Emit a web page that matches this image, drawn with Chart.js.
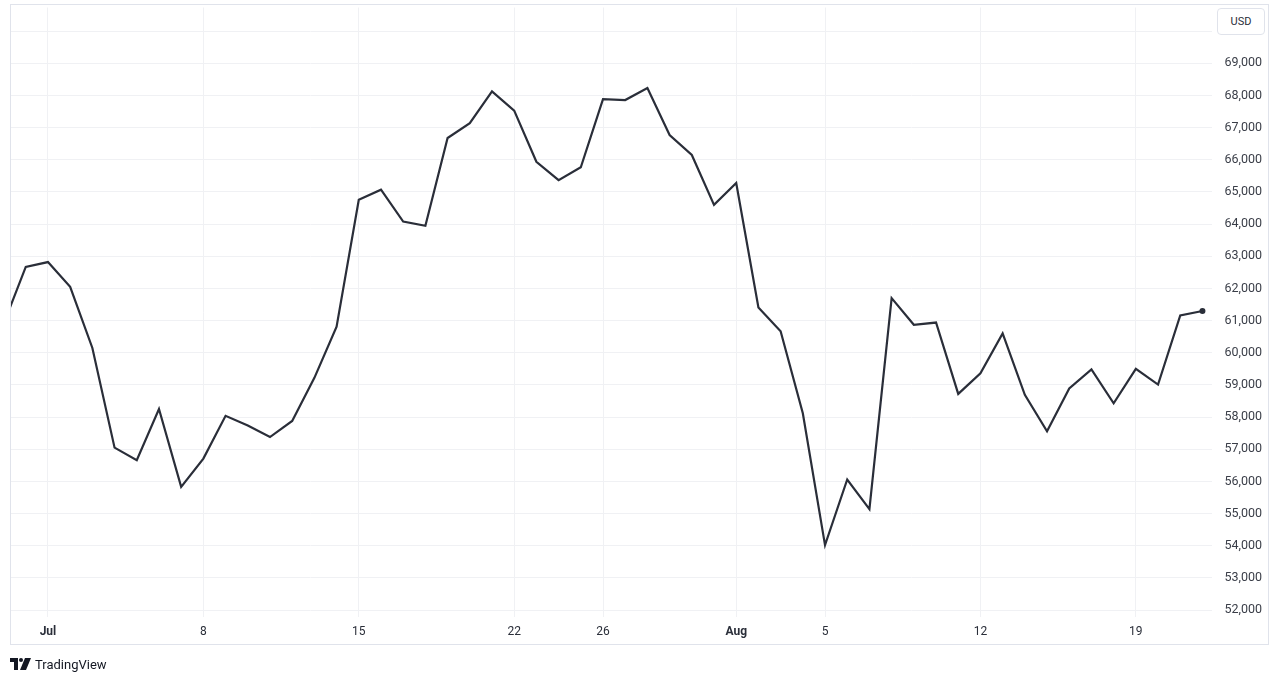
<!DOCTYPE html>
<html>
<head>
<meta charset="utf-8">
<script src="https://cdn.jsdelivr.net/npm/chart.js@4/dist/chart.umd.min.js"></script>
<style>
  html, body { margin: 0; padding: 0; background: #ffffff; }
  #wrap { position: relative; width: 1280px; height: 683px; }
  #c { position: absolute; left: 0; top: 0; }
  #usd { position: absolute; left: 1217px; top: 8px; width: 48px; height: 27px; box-sizing: border-box;
         border: 1px solid #e0e3eb; border-radius: 4px; background: #fff;
         font: 11px Roboto, "Noto Sans", sans-serif; color: #2a2e39; text-align: center; line-height: 25px; }
  #logo { position: absolute; left: 10px; top: 656px; height: 16px; display: flex; align-items: center;
          font: 13px Roboto, "Noto Sans", sans-serif; color: #131722; }
  #logo svg { margin-right: 4px; }
</style>
</head>
<body>
<div id="wrap">
  <canvas id="c" width="1280" height="683"></canvas>
  <div id="usd">USD</div>
  <div id="logo"><svg width="21" height="12" viewBox="0 0 21 12"><path d="M0 0h8v12H4V4H0z" fill="#131722"/><circle cx="11" cy="2" r="2" fill="#131722"/><path d="M15 0h6l-5 12h-6z" fill="#131722"/></svg>TradingView</div>
</div>
<script>
const dates = [
  '2024-06-29','2024-06-30','2024-07-01','2024-07-02','2024-07-03','2024-07-04','2024-07-05','2024-07-06',
  '2024-07-07','2024-07-08','2024-07-09','2024-07-10','2024-07-11','2024-07-12','2024-07-13','2024-07-14',
  '2024-07-15','2024-07-16','2024-07-17','2024-07-18','2024-07-19','2024-07-20','2024-07-21','2024-07-22',
  '2024-07-23','2024-07-24','2024-07-25','2024-07-26','2024-07-27','2024-07-28','2024-07-29','2024-07-30',
  '2024-07-31','2024-08-01','2024-08-02','2024-08-03','2024-08-04','2024-08-05','2024-08-06','2024-08-07',
  '2024-08-08','2024-08-09','2024-08-10','2024-08-11','2024-08-12','2024-08-13','2024-08-14','2024-08-15',
  '2024-08-16','2024-08-17','2024-08-18','2024-08-19','2024-08-20','2024-08-21','2024-08-22'
];
const prices = [
  60890, 62670, 62820, 62050, 60150, 57050, 56660, 58250,
  55830, 56710, 58040, 57740, 57380, 57880, 59220, 60810,
  64760, 65070, 64080, 63950, 66680, 67140, 68130, 67530,
  65940, 65370, 65770, 67890, 67860, 68230, 66770, 66150,
  64600, 65280, 61410, 60670, 58120, 54020, 56060, 55140,
  61700, 60870, 60940, 58720, 59360, 60600, 58690, 57560,
  58890, 59480, 58430, 59500, 59010, 61160, 61300
];
const tickDates = ['2024-07-01','2024-07-08','2024-07-15','2024-07-22','2024-07-26','2024-08-01','2024-08-05','2024-08-12','2024-08-19'];
const tickLabels = ['Jul','8','15','22','26','Aug','5','12','19'];
const boldTicks = ['Jul','Aug'];
const priceTicks = [52000,53000,54000,55000,56000,57000,58000,59000,60000,61000,62000,63000,64000,65000,66000,67000,68000,69000,70000];

const DAY = 86400000;
const base = Date.UTC(2024, 6, 1);
const dayIndex = s => { const [y,m,d] = s.split('-').map(Number); return Math.round((Date.UTC(y, m-1, d) - base) / DAY); };
const pts = dates.map((d, i) => ({ x: dayIndex(d), y: prices[i] }));
const tickIdx = tickDates.map(dayIndex);
const lastIdx = pts.length - 1;
const FONT = 'Roboto, "Noto Sans", sans-serif';

const frame = {
  id: 'frame',
  afterDraw(chart) {
    const ctx = chart.ctx;
    ctx.save();
    ctx.strokeStyle = '#e0e3eb';
    ctx.lineWidth = 1;
    ctx.strokeRect(10.5, 4.5, 1258, 640);
    ctx.restore();
  }
};

new Chart(document.getElementById('c'), {
  type: 'line',
  data: {
    datasets: [{
      data: pts,
      borderColor: '#2a2e39',
      borderWidth: 2.2,
      tension: 0,
      pointRadius: ctx => ctx.dataIndex === lastIdx ? 3 : 0,
      pointBackgroundColor: '#2a2e39',
      pointBorderColor: '#2a2e39',
      pointBorderWidth: 0,
      clip: { left: 0, top: 0, right: 6, bottom: 0 }
    }]
  },
  options: {
    responsive: false,
    animation: false,
    events: [],
    layout: { padding: { left: 10, top: 6, right: 18, bottom: 0 } },
    plugins: { legend: { display: false }, tooltip: { enabled: false } },
    scales: {
      x: {
        type: 'linear',
        min: -1.71,
        max: 52.43,
        afterBuildTicks: s => { s.ticks = tickIdx.map(v => ({ value: v })); },
        afterFit: s => { s.height = 66; },
        grid: { color: '#f0f1f4', drawTicks: false, lineWidth: 1 },
        border: { display: false },
        ticks: {
          autoSkip: false,
          maxRotation: 0,
          padding: 8,
          color: '#2a2e39',
          font: ctx => {
            const t = ctx && ctx.tick;
            const lab = t ? tickLabels[tickIdx.indexOf(t.value)] : '';
            return { family: FONT, size: 12, weight: boldTicks.includes(lab) ? 'bold' : 'normal' };
          },
          callback: v => { const i = tickIdx.indexOf(v); return i >= 0 ? tickLabels[i] : ''; }
        }
      },
      y: {
        position: 'right',
        min: 51783,
        max: 70737,
        afterBuildTicks: s => { s.ticks = priceTicks.map(v => ({ value: v })); },
        afterFit: s => { s.width = 50; },
        grid: { color: '#f0f1f4', drawTicks: false, lineWidth: 1 },
        border: { display: false },
        ticks: {
          crossAlign: 'far',
          padding: 0,
          color: '#3a3e48',
          font: { family: FONT, size: 12.5 },
          callback: v => v >= 70000 ? '' : v.toLocaleString('en-US')
        }
      }
    }
  },
  plugins: [frame]
});
</script>
</body>
</html>
